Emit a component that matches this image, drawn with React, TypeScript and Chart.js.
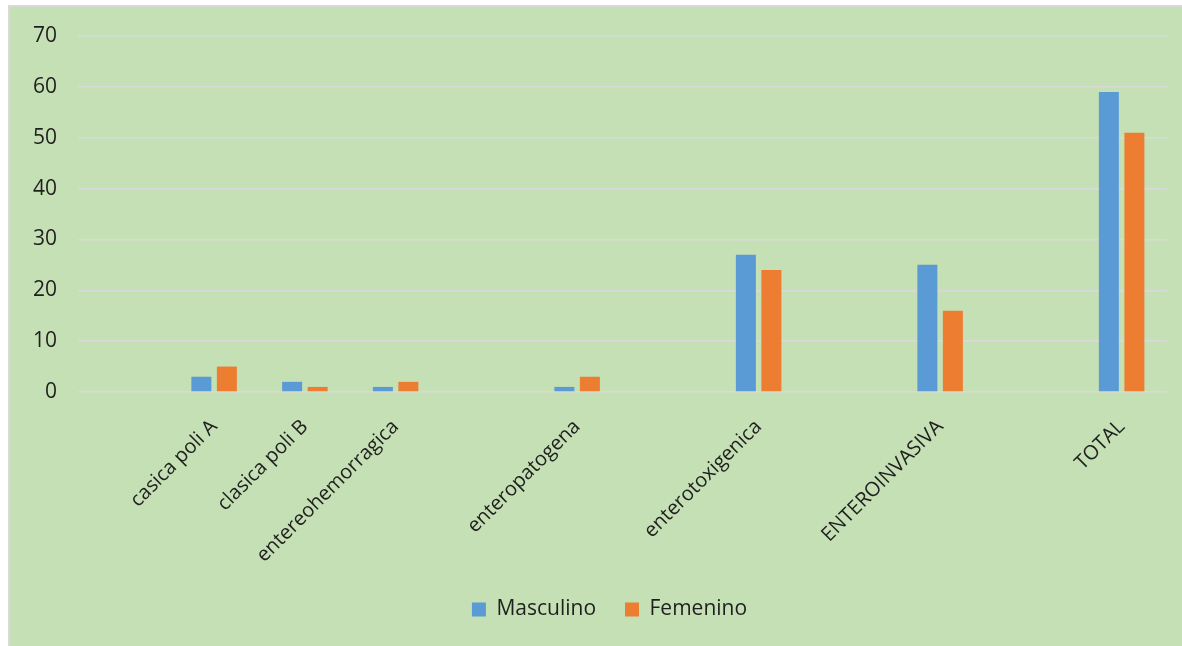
import React, { useEffect, useRef } from "react";
import { Chart, registerables } from "chart.js";

Chart.register(...registerables);

const categories = [
  "",
  "casica poli A",
  "clasica poli B",
  "entereohemorragica",
  "",
  "enteropatogena",
  "",
  "enterotoxigenica",
  "",
  "ENTEROINVASIVA",
  "",
  "TOTAL",
];
const masculino = [null, 3, 2, 1, null, 1, null, 27, null, 25, null, 59];
const femenino = [null, 5, 1, 2, null, 3, null, 24, null, 16, null, 51];
const yTicks = [0, 10, 20, 30, 40, 50, 60, 70];

const FONT = "'Open Sans', 'Noto Sans', sans-serif";
const TEXT = "#1F1F1F";

const legendShift = {
  id: "legendShift",
  afterLayout(chart: any) {
    const l = chart.legend;
    if (l) {
      l.left += 21;
      l.right += 21;
    }
  },
};

export default function App() {
  const ref = useRef<HTMLCanvasElement>(null);
  useEffect(() => {
    if (!ref.current) return;
    const chart = new Chart(ref.current, {
      type: "bar",
      plugins: [legendShift],
      data: {
        labels: categories,
        datasets: [
          {
            label: "Masculino",
            data: masculino,
            backgroundColor: "#5B9BD5",
            categoryPercentage: 0.562,
            barPercentage: 0.784,
          },
          {
            label: "Femenino",
            data: femenino,
            backgroundColor: "#ED7D31",
            categoryPercentage: 0.562,
            barPercentage: 0.784,
          },
        ],
      },
      options: {
        animation: false,
        responsive: false,
        layout: { padding: { top: 29, left: 0, right: 15, bottom: 16 } },
        plugins: {
          tooltip: { enabled: false },
          legend: {
            position: "bottom",
            labels: {
              boxWidth: 14,
              boxHeight: 14,
              padding: 29,
              color: TEXT,
              font: { family: FONT, size: 21 },
            },
          },
        },
        scales: {
          x: {
            grid: { display: false, drawTicks: false },
            border: { display: false },
            ticks: {
              autoSkip: false,
              minRotation: 45,
              maxRotation: 45,
              padding: 23,
              color: TEXT,
              font: { family: FONT, size: 20 },
            },
            afterFit: (s: any) => {
              s.height = 178;
            },
          },
          y: {
            min: 0,
            max: 70,
            afterBuildTicks: (s: any) => {
              s.ticks = yTicks.map((v) => ({ value: v }));
            },
            grid: { color: "#D9D9D9", lineWidth: 1.5, drawTicks: false },
            border: { display: false },
            ticks: {
              padding: 21,
              color: TEXT,
              font: { family: FONT, size: 21, lineHeight: 0.5 },
            },
            afterFit: (s: any) => {
              s.width = 68;
            },
          },
        },
      },
    });
    return () => chart.destroy();
  }, []);
  return (
    <div
      style={{
        position: "fixed",
        left: 8,
        top: 5,
        right: 0,
        bottom: 0,
        overflow: "hidden",
        background: "#C5E0B4",
        borderTop: "2px solid #D9D9D9",
        borderLeft: "2px solid #D9D9D9",
      }}
    >
      <canvas ref={ref} width={1172} height={639} style={{ display: "block" }} />
    </div>
  );
}
